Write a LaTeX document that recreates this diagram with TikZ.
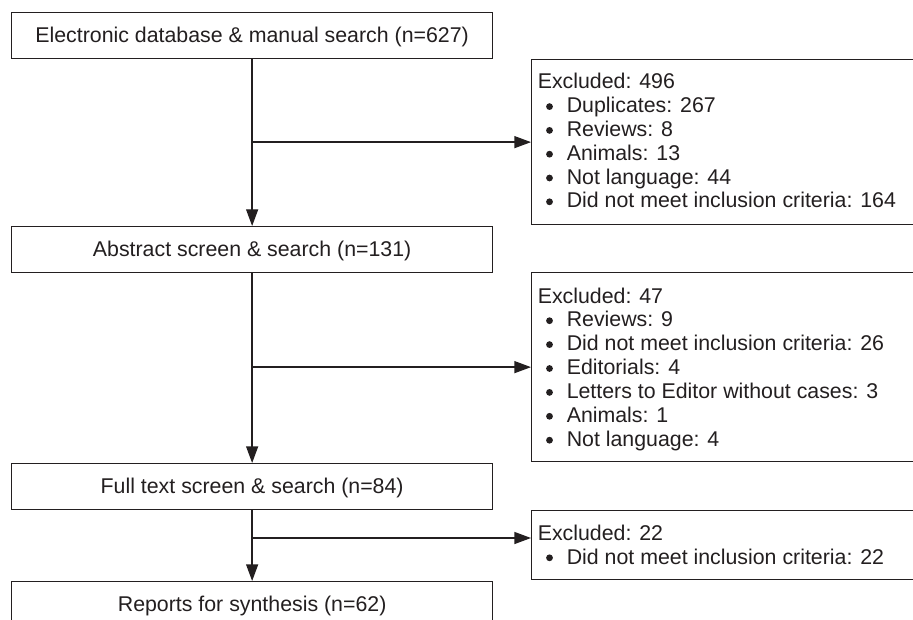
\documentclass[tikz,border=0pt]{standalone}
\usepackage{fontspec}
\setmainfont{Liberation Sans}
\usetikzlibrary{arrows.meta}
\definecolor{ink}{RGB}{35,31,32}
\begin{document}
\begin{tikzpicture}[x=0.75pt,y=-0.75pt,
  mainbox/.style={draw=ink, line width=0.95pt, anchor=north west,
    minimum width=360.75pt, minimum height=34.5pt, inner sep=0pt,
    text=ink, font=\fontsize{16pt}{19pt}\selectfont,
    text height=11pt, text depth=0pt},
  exbox/.style={draw=ink, line width=0.95pt, anchor=north west,
    minimum width=321.75pt, inner sep=0pt},
  exline/.style={anchor=base west, inner sep=0pt, text=ink,
    font=\fontsize{16pt}{19pt}\selectfont,
    text height=11.5pt, text depth=3.5pt},
  bulletdot/.style={fill=ink},
  conn/.style={draw=ink, line width=1pt, -{Triangle[length=12.5pt,width=9pt]}}
]
\useasboundingbox (0,0) rectangle (913,620);
\clip (0,0) rectangle (913,620);
\fill[white] (0,0) rectangle (913,620);

% main boxes
\node[mainbox] (b1) at (11,12) {Electronic database \& manual search (n=627)};
\node[mainbox] (b3) at (11,226) {Abstract screen \& search (n=131)};
\node[mainbox] (b5) at (11,463) {Full text screen \& search (n=84)};
\node[mainbox] (b6) at (11,581) {Reports for synthesis (n=62)};

% exclusion boxes
\node[exbox, minimum height=123.75pt] (e1) at (531,59) {};
\node[exbox, minimum height=141.75pt] (e2) at (531,272) {};
\node[exbox, minimum height=51.75pt] (e3) at (531,510) {};

% exclusion texts
\node[exline] (e1l0) at (537.5,89) {Excluded: 496};
\foreach \t [count=\i] in {Duplicates: 267, Reviews: 8, Animals: 13,
    Not language: 44, Did not meet inclusion criteria: 164}{
  \fill[bulletdot] (549.5,{89+23.8*\i-6.2}) circle (3.4);
  \node[exline] (e1l\i) at (566.5,{89+23.8*\i}) {\t};
}

\node[exline] (e2l0) at (537.5,303) {Excluded: 47};
\foreach \t [count=\i] in {Reviews: 9, Did not meet inclusion criteria: 26,
    Editorials: 4, Letters to Editor without cases: 3, Animals: 1,
    Not language: 4}{
  \fill[bulletdot] (549.5,{303+23.9*\i-6.2}) circle (3.4);
  \node[exline] (e2l\i) at (566.5,{303+23.9*\i}) {\t};
}

\node[exline] (e3l0) at (537.5,540) {Excluded: 22};
\fill[bulletdot] (549.5,{564-6.2}) circle (3.4);
\node[exline] (e3l1) at (566.5,564) {Did not meet inclusion criteria: 22};

% connectors
\draw[conn] (b1.south) -- (b3.north);
\draw[conn] (b3.south) -- (b5.north);
\draw[conn] (b5.south) -- (b6.north);
\draw[conn] (b1.south |- e1.west) -- (e1.west);
\draw[conn] (b3.south |- e2.west) -- (e2.west);
\coordinate (j3) at (251.5,538);
\draw[conn] (j3) -- (j3 -| e3.west);
\end{tikzpicture}
\end{document}
